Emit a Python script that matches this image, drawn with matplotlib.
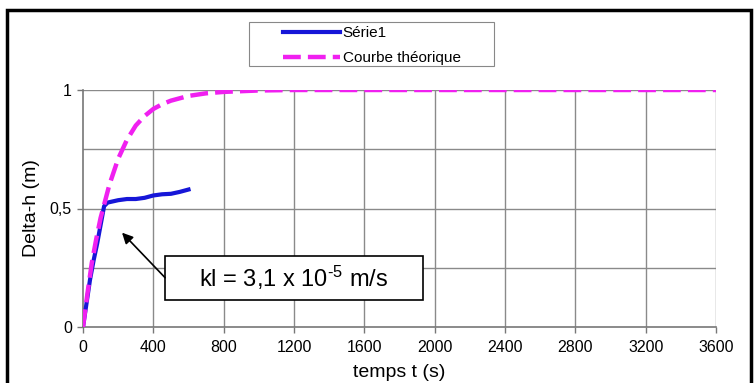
import matplotlib
matplotlib.use("Agg")
import matplotlib.pyplot as plt
from matplotlib.patches import Rectangle

plt.rcParams['font.family'] = ['Liberation Sans', 'DejaVu Sans']
plt.rcParams['mathtext.fontset'] = 'custom'
plt.rcParams['mathtext.rm'] = 'Liberation Sans'
plt.rcParams['mathtext.it'] = 'Liberation Sans:italic'

# Measured series (Série1)
t_serie = [0, 20, 40, 60, 80, 100, 120, 140, 170, 200, 250, 300, 350, 400, 450, 500, 550, 600]
h_serie = [0, 0.10, 0.20, 0.28, 0.35, 0.43, 0.51, 0.525, 0.53, 0.535, 0.54, 0.54, 0.545, 0.555, 0.56, 0.562, 0.57, 0.58]

# Theoretical curve
t_theo = [0, 25, 50, 75, 100, 125, 150, 200, 250, 300, 350, 400, 450, 500, 600, 700, 800, 1000, 1200, 1600, 2000, 2400, 2800, 3200, 3600]
h_theo = [0, 0.14, 0.27, 0.37, 0.46, 0.53, 0.60, 0.71, 0.79, 0.85, 0.89, 0.92, 0.94, 0.955, 0.975, 0.986, 0.992, 0.998, 1, 1, 1, 1, 1, 1, 1]

x_ticks = [0, 400, 800, 1200, 1600, 2000, 2400, 2800, 3200, 3600]
y_ticks = [0, 0.5, 1]
y_ticklabels = ['0', '0,5', '1']
y_grid = [0.25, 0.5, 0.75, 1]

W, H = 755, 383
fig = plt.figure(figsize=(7.55, 3.83), dpi=100)
fig.patch.set_facecolor('white')

# outer frame
fig.add_artist(Rectangle((7 / W, -0.01), 744 / W, 1 - 10 / H + 0.01,
                         transform=fig.transFigure, fill=False,
                         edgecolor='black', linewidth=2.5))

ax = fig.add_axes([83 / W, 1 - 327 / H, 633 / W, 237 / H])
ax.set_xlim(0, 3600)
ax.set_ylim(0, 1)

for x in x_ticks[1:]:
    ax.axvline(x, color='#8a8a8a', linewidth=1.0, zorder=0)
for y in y_grid:
    ax.axhline(y, color='#8a8a8a', linewidth=1.0, zorder=0)

ax.plot(t_serie, h_serie, color='#1616d8', linewidth=3, label='Série1', zorder=3)
ax.plot(t_theo, h_theo, color='#f020f0', linewidth=3.2, linestyle=(0, (4, 1.6)),
        label='Courbe théorique', zorder=4)

ax.set_xticks(x_ticks)
ax.set_xticklabels([str(v) for v in x_ticks], fontsize=11.5)
ax.set_yticks(y_ticks)
ax.set_yticklabels(y_ticklabels, fontsize=11.5)
ax.tick_params(axis='x', direction='out', length=4, color='#777777', width=1, pad=5)
ax.tick_params(axis='y', direction='out', length=4, color='#777777', width=1, pad=4)

for side in ['left', 'bottom']:
    ax.spines[side].set_color('#777777')
    ax.spines[side].set_linewidth(1.2)
for side in ['top', 'right']:
    ax.spines[side].set_visible(False)

ax.set_xlabel('temps t (s)', fontsize=14, labelpad=7)
ax.set_ylabel('Delta-h (m)', fontsize=14, labelpad=7)

# annotation box
ax.text(1196, 0.207, 'kl = 3,1 x 10$^{\\text{-5}}$ m/s', fontsize=17,
        ha='center', va='center', zorder=6)
ax.add_patch(Rectangle((467, 0.115), 1464, 0.186, facecolor='white',
                       edgecolor='black', linewidth=1.2, zorder=5))
ax.annotate('', xy=(222, 0.398), xytext=(467, 0.208),
            arrowprops=dict(arrowstyle='-|>', color='black', linewidth=1.2,
                            mutation_scale=16, shrinkA=0, shrinkB=0),
            zorder=5)

# legend
fig.add_artist(Rectangle((249 / W, 1 - 66 / H), 245 / W, 44 / H,
                         transform=fig.transFigure, facecolor='white',
                         edgecolor='#888888', linewidth=0.8))
leg = fig.legend(loc='upper left', bbox_to_anchor=(283 / W, 1 - 26 / H),
                 fontsize=11, frameon=False, handlelength=3.7,
                 borderpad=0, borderaxespad=0, labelspacing=0.75, handletextpad=0.2)

fig.savefig('out.png', dpi=100, facecolor='white')
